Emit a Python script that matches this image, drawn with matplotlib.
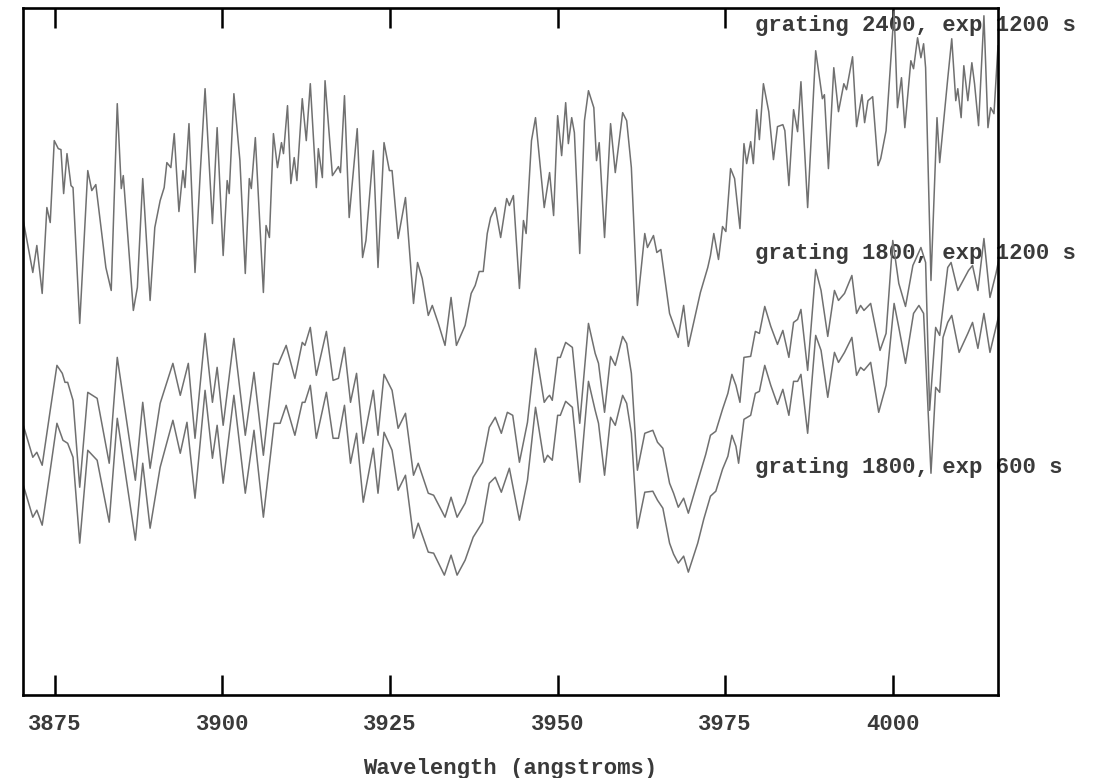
import matplotlib
matplotlib.use("Agg")
import matplotlib.pyplot as plt

# grating 2400, exp 1200 s
wl_2400 = [3870.2, 3871.7, 3872.3, 3873.1, 3873.8, 3874.3, 3874.9, 3875.5, 3875.9, 3876.3,
           3876.8, 3877.4, 3877.7, 3878.7, 3879.9, 3880.5, 3881.1, 3882.6, 3883.4, 3884.3,
           3884.9, 3885.2, 3886.7, 3887.3, 3888.1, 3889.2, 3889.9, 3890.7, 3891.3, 3891.7,
           3892.3, 3892.8, 3893.5, 3894.1, 3894.4, 3895.0, 3895.9, 3896.7, 3897.4, 3898.5,
           3899.2, 3900.1, 3900.7, 3901.0, 3901.7, 3902.6, 3903.4, 3904.0, 3904.3, 3904.9,
           3906.1, 3906.5, 3907.0, 3907.6, 3908.2, 3908.8, 3909.1, 3909.7, 3910.2, 3910.7,
           3911.1, 3911.9, 3912.5, 3913.1, 3914.0, 3914.3, 3914.9, 3915.3, 3916.4, 3917.3,
           3917.6, 3918.2, 3918.9, 3920.1, 3920.9, 3921.4, 3922.5, 3923.2, 3924.1, 3924.9,
           3925.3, 3926.2, 3927.3, 3928.5, 3929.1, 3929.8, 3930.7, 3931.3, 3932.2, 3933.2,
           3934.1, 3934.9, 3936.2, 3937.1, 3937.7, 3938.3, 3938.9, 3939.5, 3940.0, 3940.7,
           3941.5, 3942.4, 3942.8, 3943.4, 3944.3, 3944.9, 3945.3, 3946.1, 3946.7, 3948.0,
           3948.8, 3949.4, 3950.0, 3950.6, 3951.2, 3951.6, 3952.1, 3952.5, 3953.3, 3954.0,
           3954.6, 3955.4, 3955.8, 3956.2, 3957.0, 3957.9, 3958.6, 3959.7, 3960.3, 3961.0,
           3961.9, 3963.0, 3963.4, 3964.3, 3964.8, 3965.4, 3966.7, 3968.0, 3968.8, 3969.5,
           3971.3, 3972.4, 3972.8, 3973.3, 3974.0, 3974.6, 3975.1, 3975.8, 3976.4, 3977.2,
           3977.8, 3978.2, 3978.8, 3979.2, 3979.7, 3980.1, 3980.7, 3981.5, 3982.2, 3982.8,
           3983.6, 3983.9, 3984.5, 3985.2, 3985.8, 3986.3, 3987.3, 3988.5, 3989.5, 3989.8,
           3990.4, 3991.2, 3991.9, 3992.7, 3993.1, 3994.0, 3994.6, 3995.4, 3995.8, 3996.3,
           3997.0, 3997.8, 3998.2, 3999.0, 4000.2, 4000.7, 4001.3, 4001.8, 4002.7, 4003.1,
           4003.7, 4004.2, 4004.6, 4004.9, 4005.7, 4006.6, 4007.0, 4008.2, 4008.8, 4009.4,
           4009.7, 4010.2, 4010.6, 4011.2, 4011.8, 4012.2, 4012.8, 4013.6, 4014.2, 4014.6,
           4015.1, 4015.7, 4016.1]
flux_2400 = [480, 425, 452, 404, 490, 475, 557, 549, 548, 504,
             544, 512, 510, 374, 527, 507, 513, 430, 407, 594,
             509, 522, 387, 410, 519, 397, 470, 497, 510, 535,
             530, 564, 486, 527, 510, 574, 425, 527, 609, 474,
             570, 442, 517, 504, 604, 537, 424, 519, 509, 560,
             405, 472, 460, 564, 530, 555, 544, 592, 514, 540,
             517, 599, 557, 614, 510, 549, 520, 617, 522, 531,
             525, 602, 480, 569, 440, 457, 547, 430, 555, 527,
             527, 459, 500, 394, 435, 419, 382, 392, 374, 352,
             400, 352, 372, 404, 412, 426, 426, 464, 480, 490,
             460, 499, 492, 502, 409, 477, 464, 557, 580, 490,
             525, 482, 582, 542, 595, 554, 580, 565, 444, 577,
             607, 590, 537, 555, 460, 574, 525, 585, 577, 530,
             392, 464, 450, 462, 445, 448, 384, 360, 392, 351,
             405, 430, 442, 464, 438, 471, 466, 529, 519, 469,
             554, 534, 556, 534, 588, 558, 614, 586, 538, 571,
             573, 567, 512, 588, 566, 616, 490, 647, 599, 603,
             529, 630, 586, 614, 608, 641, 571, 603, 575, 597,
             601, 532, 539, 567, 687, 590, 620, 570, 637, 629,
             660, 640, 654, 630, 417, 580, 535, 619, 659, 597,
             609, 580, 632, 597, 635, 614, 572, 682, 570, 590,
             584, 652, 650]

# grating 1800, exp 1200 s
wl_1800_long = [3870.2, 3871.7, 3872.3, 3873.1, 3874.3, 3875.3, 3876.1, 3876.5, 3876.9, 3877.7,
                3878.7, 3879.9, 3881.3, 3883.1, 3884.3, 3887.0, 3888.1, 3889.2, 3890.7, 3892.6,
                3893.7, 3894.9, 3895.9, 3897.4, 3898.5, 3899.2, 3900.1, 3901.7, 3903.4, 3904.7,
                3906.1, 3907.6, 3908.3, 3909.5, 3910.8, 3911.9, 3912.3, 3913.1, 3914.0, 3915.5,
                3916.5, 3917.3, 3918.2, 3919.1, 3920.0, 3921.0, 3922.5, 3923.2, 3924.1, 3925.3,
                3926.2, 3927.3, 3928.5, 3929.2, 3930.7, 3931.5, 3933.2, 3934.1, 3935.0, 3936.2,
                3937.4, 3938.8, 3939.8, 3940.7, 3941.6, 3942.5, 3943.3, 3944.3, 3945.5, 3946.7,
                3948.0, 3948.5, 3948.8, 3949.2, 3950.0, 3950.4, 3951.2, 3952.2, 3953.3, 3954.6,
                3955.6, 3956.1, 3957.0, 3957.9, 3958.6, 3959.7, 3960.3, 3961.0, 3961.9, 3963.0,
                3964.2, 3964.9, 3965.7, 3966.7, 3967.3, 3968.0, 3968.8, 3969.5, 3970.9, 3972.1,
                3972.8, 3973.6, 3974.6, 3975.4, 3976.0, 3976.6, 3977.2, 3977.8, 3978.8, 3979.5,
                3980.1, 3980.9, 3981.8, 3982.8, 3983.6, 3984.5, 3985.2, 3985.8, 3986.3, 3987.3,
                3988.5, 3989.3, 3990.3, 3991.3, 3991.9, 3992.8, 3993.9, 3994.6, 3995.2, 3995.7,
                3996.7, 3998.1, 3999.0, 4000.0, 4000.9, 4001.9, 4003.0, 4004.2, 4004.9, 4005.5,
                4006.4, 4007.0, 4008.2, 4008.7, 4009.7, 4010.5, 4011.3, 4011.9, 4012.7, 4013.6,
                4014.5, 4015.4, 4016.0]
flux_1800_long = [274, 240, 245, 232, 287, 332, 324, 315, 315, 297,
                  210, 305, 299, 234, 340, 217, 295, 229, 294, 334,
                  302, 334, 259, 364, 295, 330, 272, 359, 262, 325,
                  242, 334, 333, 352, 319, 355, 352, 370, 322, 366,
                  317, 319, 350, 295, 324, 254, 307, 262, 323, 307,
                  269, 284, 222, 234, 204, 202, 180, 200, 180, 194,
                  220, 235, 270, 280, 264, 285, 282, 235, 275, 349,
                  295, 300, 302, 297, 340, 340, 355, 350, 274, 374,
                  344, 334, 285, 341, 332, 361, 354, 324, 227, 264,
                  267, 255, 249, 214, 204, 190, 199, 184, 216, 243,
                  262, 266, 288, 304, 323, 312, 295, 340, 341, 366,
                  364, 391, 371, 353, 367, 340, 375, 378, 388, 327,
                  428, 407, 361, 407, 397, 404, 422, 384, 392, 387,
                  394, 347, 364, 457, 414, 391, 432, 450, 435, 287,
                  370, 362, 430, 435, 407, 417, 427, 432, 407, 459,
                  400, 424, 444]

# grating 1800, exp 600 s
wl_1800_short = [3870.2, 3871.7, 3872.3, 3873.1, 3874.3, 3875.3, 3876.2, 3876.9, 3877.7, 3878.7,
                 3879.9, 3881.3, 3883.1, 3884.3, 3887.0, 3888.1, 3889.2, 3890.7, 3892.6, 3893.7,
                 3894.7, 3895.9, 3897.4, 3898.5, 3899.2, 3900.1, 3901.7, 3903.4, 3904.7, 3906.1,
                 3907.7, 3908.6, 3909.5, 3910.8, 3911.9, 3912.3, 3913.1, 3914.0, 3915.5, 3916.5,
                 3917.3, 3918.2, 3919.1, 3920.0, 3921.0, 3922.5, 3923.2, 3924.1, 3925.3, 3926.2,
                 3927.3, 3928.5, 3929.2, 3930.7, 3931.5, 3933.1, 3934.1, 3935.0, 3936.2, 3937.4,
                 3938.8, 3939.8, 3940.7, 3941.6, 3942.8, 3944.3, 3945.5, 3946.7, 3948.0, 3948.5,
                 3949.2, 3950.0, 3950.4, 3951.2, 3952.2, 3953.3, 3954.6, 3955.6, 3956.1, 3957.0,
                 3957.9, 3958.6, 3959.7, 3960.3, 3961.0, 3961.9, 3963.0, 3964.2, 3964.9, 3965.7,
                 3966.7, 3967.3, 3968.0, 3968.8, 3969.5, 3970.9, 3971.8, 3972.8, 3973.6, 3974.6,
                 3975.4, 3976.0, 3976.6, 3977.0, 3977.8, 3978.8, 3979.5, 3980.1, 3980.9, 3981.8,
                 3982.8, 3983.6, 3984.5, 3985.2, 3985.8, 3986.3, 3987.3, 3988.5, 3989.3, 3990.3,
                 3991.3, 3991.9, 3992.8, 3993.9, 3994.6, 3995.2, 3995.7, 3996.7, 3997.9, 3999.0,
                 4000.2, 4000.9, 4001.9, 4003.1, 4003.9, 4004.6, 4005.7, 4006.4, 4007.0, 4007.5,
                 4008.2, 4008.8, 4009.9, 4011.2, 4011.9, 4012.7, 4013.6, 4014.5, 4015.4, 4016.0]
flux_1800_short = [214, 180, 187, 172, 227, 274, 257, 254, 240, 154,
                   247, 237, 175, 279, 157, 234, 169, 230, 277, 244,
                   275, 199, 307, 239, 272, 214, 302, 204, 267, 180,
                   274, 274, 292, 262, 295, 295, 312, 259, 305, 259,
                   259, 292, 234, 264, 195, 249, 204, 265, 247, 207,
                   222, 159, 174, 145, 144, 122, 142, 122, 137, 160,
                   175, 214, 220, 205, 229, 177, 217, 290, 235, 242,
                   237, 282, 282, 296, 290, 215, 316, 287, 274, 222,
                   280, 272, 302, 294, 264, 169, 205, 206, 197, 189,
                   154, 143, 134, 141, 125, 154, 178, 201, 206, 228,
                   241, 262, 251, 234, 278, 282, 304, 306, 332, 312,
                   293, 308, 282, 316, 316, 323, 264, 362, 347, 300,
                   345, 335, 345, 360, 322, 330, 327, 335, 285, 312,
                   394, 370, 334, 384, 392, 384, 224, 310, 305, 360,
                   375, 382, 345, 364, 375, 349, 384, 345, 370, 387]

labels = ["grating 2400, exp 1200 s", "grating 1800, exp 1200 s", "grating 1800, exp 600 s"]
label_y = [672, 444, 230]

fig = plt.figure(figsize=(10.99, 7.78), dpi=100)
ax = fig.add_axes([0.0207, 0.1067, 0.8874, 0.8833])

mono = ["Liberation Mono", "DejaVu Sans Mono"]
for s, yy in zip(labels, label_y):
    ax.text(3979.4, yy, s, family=mono, fontsize=16, fontweight="bold",
            color="#3a3a3a", va="center", ha="left", clip_on=False, zorder=1)

for wl, fl in [(wl_2400, flux_2400), (wl_1800_long, flux_1800_long), (wl_1800_short, flux_1800_short)]:
    ax.plot(wl, fl, color="#707070", lw=1.1, zorder=2)

ax.set_xlim(3870.2, 4015.7)
ax.set_ylim(2, 690)
ax.set_xticks([3875, 3900, 3925, 3950, 3975, 4000])
ax.set_yticks([])
ax.tick_params(axis="x", direction="in", top=True, bottom=True, length=14.5, width=1.8,
               pad=14, labelsize=16, labelcolor="#3a3a3a")
for lab in ax.get_xticklabels():
    lab.set_family(mono)
    lab.set_fontweight("bold")
for sp in ax.spines.values():
    sp.set_linewidth(1.9)
ax.set_xlabel("Wavelength (angstroms)", family=mono, fontsize=16, fontweight="bold",
              color="#3a3a3a", labelpad=16)

fig.savefig("out.png", dpi=100)
